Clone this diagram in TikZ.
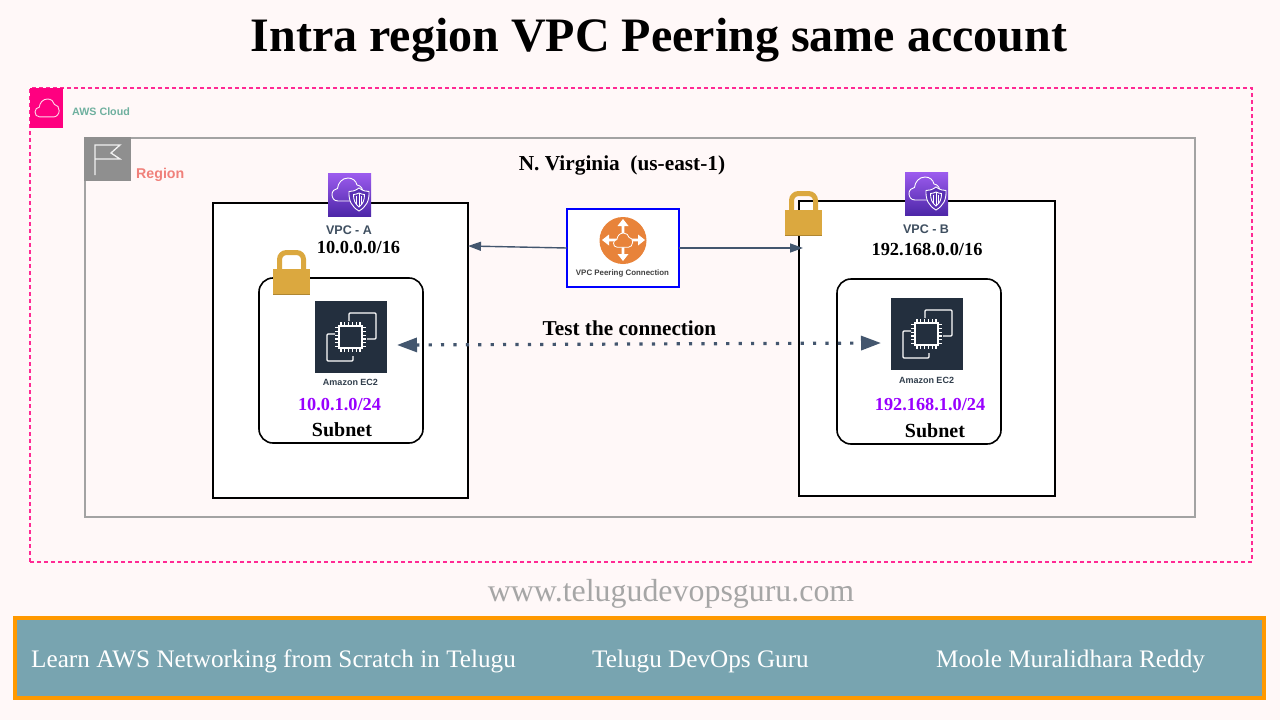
\documentclass[tikz,border=0pt]{standalone}
\usepackage{fontspec}
\setmainfont{Liberation Serif}
\newfontfamily\lsans{Liberation Sans}
\usetikzlibrary{arrows.meta,calc}
\definecolor{pagebg}{HTML}{FFF8F8}
\definecolor{awspink}{HTML}{FF2A94}
\definecolor{awssolid}{HTML}{FF0080}
\definecolor{regiongray}{HTML}{A3A3A3}
\definecolor{flaggray}{HTML}{8F8F8F}
\definecolor{awsgreen}{HTML}{6FB09F}
\definecolor{regionred}{HTML}{F0807A}
\definecolor{lockgold}{HTML}{DBA83F}
\definecolor{ecdark}{HTML}{232F3E}
\definecolor{arrowblue}{HTML}{43566E}
\definecolor{labelgray}{HTML}{3F4F60}
\definecolor{peerorange}{HTML}{E8833A}
\definecolor{purpletxt}{HTML}{9900FF}
\definecolor{barteal}{HTML}{78A4B0}
\definecolor{barorange}{HTML}{FF9900}
\definecolor{webgray}{HTML}{A6A6A6}
\definecolor{vpctop}{HTML}{9D5CEF}
\definecolor{vpcbot}{HTML}{4D27A8}
\tikzset{
  panel/.style={rectangle,inner sep=0pt,outer sep=0pt},
  vpcbox/.style={panel,draw=black,fill=white,line width=1.1pt},
  subnetbox/.style={panel,draw=black,fill=white,line width=1.6pt,rounded corners=14pt},
  serifb/.style={inner sep=0pt,font=\fontsize{#1pt}{#1pt}\selectfont\bfseries},
  serifr/.style={inner sep=0pt,font=\fontsize{#1pt}{#1pt}\selectfont},
  sansb/.style={inner sep=0pt,font=\fontsize{#1pt}{#1pt}\selectfont\lsans\bfseries},
  link/.style={draw=arrowblue,line width=1.4pt,-{Triangle[length=13pt,width=9pt]}},
  testlink/.style={draw=arrowblue,line width=3.2pt,dash pattern=on 3.2pt off 9.2pt,
    {Triangle[length=20pt,width=14pt]}-{Triangle[length=20pt,width=14pt]}},
}
% cloud outline, box 31 x 23
\newcommand\cloudoutline[1]{%
  \draw[#1] (6,23) .. controls (2,23) and (0,20) .. (0,16.5)
    .. controls (0,13) and (2.5,11) .. (5.5,10.5)
    .. controls (6,5) and (10,0) .. (16,0)
    .. controls (21,0) and (24,3) .. (25,7)
    .. controls (29,7.5) and (31,11) .. (31,15)
    .. controls (31,20) and (27,23) .. (24,23) -- cycle;}
\newcommand\vpcicon[2]{%
  \begin{scope}[shift={(#1,#2)}]
    \fill[top color=vpctop,bottom color=vpcbot] (0,0) rectangle (43,43);
    \begin{scope}[shift={(4,5)}]
      \cloudoutline{draw=white,line width=.9pt}
    \end{scope}
    \filldraw[draw=white,fill=vpcbot!85!vpctop,line width=.9pt]
      (31,15) .. controls (35,18) and (38,18.5) .. (41,18.5)
      .. controls (41.5,28) and (38,34) .. (31,38)
      .. controls (24,34) and (20.5,28) .. (21,18.5)
      .. controls (24,18.5) and (27,18) .. (31,15) -- cycle;
    \draw[white,line width=.9pt] (31,20) .. controls (33,21) and (35,21.5) .. (36.5,21.5)
      .. controls (36.5,27) and (35,31) .. (31,34)
      .. controls (27,31) and (25.5,27) .. (25.5,21.5)
      .. controls (27,21.5) and (29,21) .. (31,20) -- cycle;
    \draw[white,line width=.9pt] (31,20) -- (31,34) (28.5,23) -- (28.5,30.5) (33.5,23) -- (33.5,30.5);
  \end{scope}}
\newcommand\lockicon[2]{%
  \begin{scope}[shift={(#1,#2)}]
    \draw[lockgold,line width=5pt,rounded corners=7pt] (6.5,20) -- (6.5,2.5) -- (30.5,2.5) -- (30.5,20);
    \fill[lockgold] (0,19) rectangle (37,44);
    \fill[lockgold!80!black] (0,44) rectangle (37,45);
  \end{scope}}
\newcommand\ecicon[2]{%
  \begin{scope}[shift={(#1,#2)}]
    \draw[white,line width=1.3pt,rounded corners=1pt] (34,20) -- (34,12) -- (61,12) -- (61,38) -- (52,38);
    \draw[white,line width=1.3pt,rounded corners=1pt] (20,33) -- (12,33) -- (12,60) -- (38,60) -- (38,55);
    \draw[white,line width=1.3pt] (24,25) rectangle (47,47);
    \foreach \t in {0,...,5}{
      \draw[white,line width=1.2pt] ({26+\t*3.8},21) -- ({26+\t*3.8},25)
        ({26+\t*3.8},47) -- ({26+\t*3.8},51)
        (20,{26.5+\t*3.8}) -- (24,{26.5+\t*3.8})
        (47,{26.5+\t*3.8}) -- (51,{26.5+\t*3.8});}
  \end{scope}}
\begin{document}
\begin{tikzpicture}[x=1pt,y=-1pt]
\useasboundingbox (0,0) rectangle (1280,720);
\fill[pagebg] (0,0) rectangle (1280,720);
\node[serifb=48] (title) at (659,40) {Intra region VPC Peering same account};
% AWS cloud group
\node[panel,draw=awspink,line width=1.1pt,dash pattern=on 4pt off 3pt,minimum width=1222pt,minimum height=474pt] (cloudgroup) at (641,325) {};
\fill[awssolid] (30,88) rectangle (63,128);
\begin{scope}[shift={(35,99)},scale=.78]
  \cloudoutline{draw=white!85!awssolid,line width=.9pt}
\end{scope}
\node[sansb=10.7,text=awsgreen,anchor=west] (awslabel) at (72,112) {AWS Cloud};
% Region group
\node[panel,draw=regiongray,line width=2pt,minimum width=1110pt,minimum height=379pt] (region) at (640,327.5) {};
\fill[flaggray] (84,137) rectangle (131,181);
\draw[white!88!flaggray,line width=1.3pt,line join=miter] (95,175) -- (95,145) -- (120,145) -- (111,153) -- (120,159) -- (95,159);
\node[sansb=14.2,text=regionred,anchor=west] (regionlabel) at (136,175) {Region};
\node[serifb=21.3] (virginia) at (622,165.5) {N. Virginia\ \ (us-east-1)};
% VPC boxes
\node[vpcbox,minimum width=255pt,minimum height=295pt] (vpcA) at (340.5,350.5) {};
\node[vpcbox,minimum width=256pt,minimum height=295pt] (vpcB) at (927,348.5) {};
\vpcicon{328}{173}
\vpcicon{905}{172}
\node[sansb=12.5,text=labelgray] (vpcAname) at (349,230) {VPC - A};
\node[sansb=12.5,text=labelgray] (vpcBname) at (926,229) {VPC - B};
\node[serifb=18.4] (vpcAcidr) at (358.5,248) {10.0.0.0/16};
\node[serifb=18.4] (vpcBcidr) at (927,250) {192.168.0.0/16};
% Subnets
\node[subnetbox,minimum width=164pt,minimum height=165pt] (subA) at (341,360.5) {};
\node[subnetbox,minimum width=164pt,minimum height=165pt] (subB) at (919,361.5) {};
\lockicon{273}{250}
\lockicon{785}{191}
% EC2
\node[panel,fill=ecdark,minimum width=72pt,minimum height=72pt] (ecA) at (351,337) {};
\node[panel,fill=ecdark,minimum width=72pt,minimum height=72pt] (ecB) at (927,334) {};
\ecicon{315}{301}
\ecicon{891}{298}
\node[sansb=9,text=labelgray!80!black] (ecAname) at (350.5,382) {Amazon EC2};
\node[sansb=9,text=labelgray!80!black] (ecBname) at (926.5,380) {Amazon EC2};
\node[serifb=18.3,text=purpletxt] (subAcidr) at (339.5,405) {10.0.1.0/24};
\node[serifb=18.3,text=purpletxt] (subBcidr) at (930,405) {192.168.1.0/24};
\node[serifb=20] (subAname) at (342,430) {Subnet};
\node[serifb=20] (subBname) at (935,431) {Subnet};
% Peering
\node[panel,draw=blue,fill=white,line width=2pt,minimum width=112pt,minimum height=78pt] (peer) at (623,248) {};
\fill[peerorange] (623,240.5) circle (23.5);
\begin{scope}[white]
  \fill (623,219) -- (628.5,226) -- (624.3,226) -- (624.3,254) -- (628.5,254) -- (623,261) -- (617.5,254) -- (621.7,254) -- (621.7,226) -- (617.5,226) -- cycle;
  \fill (602,240) -- (609,234.5) -- (609,238.7) -- (638,238.7) -- (638,234.5) -- (645,240) -- (638,245.5) -- (638,241.3) -- (609,241.3) -- (609,245.5) -- cycle;
\end{scope}
\begin{scope}[shift={(613.5,233)},scale=.62]
  \cloudoutline{draw=white,fill=peerorange,line width=.8pt}
\end{scope}
\node[sansb=7.9,text=black!75] (peerlabel) at (622.5,273) {VPC Peering Connection};
% Connectors
\draw[link] (peer.west) -- ($(vpcA.east)+(0,-104.5)$);
\draw[link] (peer.east) -- ($(vpcB.west)+(4,-100.5)$);
\draw[testlink] ($(ecA.east)+(10,8)$) -- ($(ecB.west)+(-10,9)$);
\node[serifb=21.2] (testlabel) at (629.5,328) {Test the connection};
% Footer
\node[serifr=31.9,text=webgray] (website) at (671,594) {www.telugudevopsguru.com};
\node[panel,draw=barorange,fill=barteal,line width=4pt,minimum width=1249pt,minimum height=80pt] (bar) at (639.5,658) {};
\node[serifr=25.2,text=white,anchor=west] (barA) at (31,661.5) {Learn AWS Networking from Scratch in Telugu};
\node[serifr=25.2,text=white,anchor=west] (barB) at (592,661.5) {Telugu DevOps Guru};
\node[serifr=25.2,text=white,anchor=west] (barC) at (936,661.5) {Moole Muralidhara Reddy};
\end{tikzpicture}
\end{document}
